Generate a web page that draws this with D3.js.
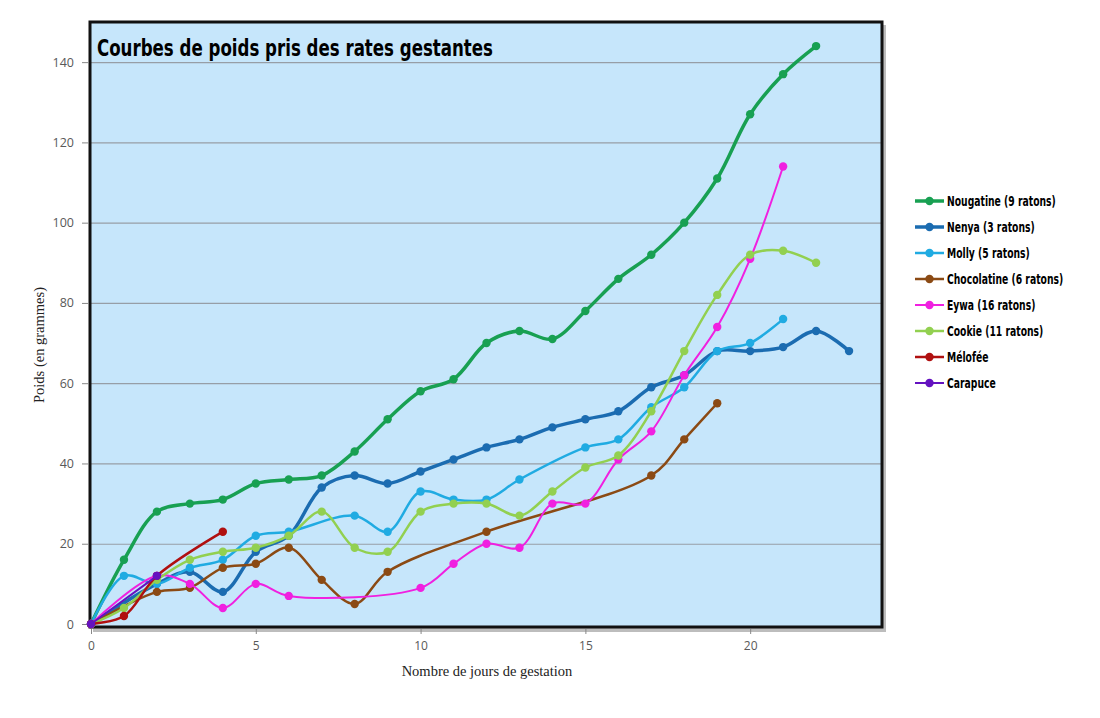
<!DOCTYPE html>
<html><head><meta charset="utf-8">
<script src="https://cdn.jsdelivr.net/npm/d3@7"></script>
<style>body{margin:0;background:#fff}svg{display:block}</style>
</head><body>
<script>
const days = [0,1,2,3,4,5,6,7,8,9,10,11,12,13,14,15,16,17,18,19,20,21,22,23];
const seriesNames = ["Nougatine (9 ratons)","Nenya (3 ratons)","Molly (5 ratons)","Chocolatine (6 ratons)","Eywa (16 ratons)","Cookie (11 ratons)","Mélofée","Carapuce"];
const nougatine   = [0,16,28,30,31,35,36,37,43,51,58,61,70,73,71,78,86,92,100,111,127,137,144,null];
const nenya       = [0,null,10,13,8,18,22,34,37,35,38,41,44,46,49,51,53,59,62,68,68,69,73,68];
const molly       = [0,12,10,14,16,22,23,null,27,23,33,31,31,36,null,44,46,54,59,68,70,76,null,null];
const chocolatine = [0,null,8,9,14,15,19,11,5,13,null,null,23,null,null,null,null,37,46,55,null,null,null,null];
const eywa        = [0,null,12,10,4,10,7,null,null,null,9,15,20,19,30,30,41,48,62,74,91,114,null,null];
const cookie      = [0,4,11,16,18,19,22,28,19,18,28,30,30,27,33,39,42,53,68,82,92,93,90,null];
const melofee     = [0,2,12,null,23,null,null,null,null,null,null,null,null,null,null,null,null,null,null,null,null,null,null,null];
const carapuce    = [0,null,12,null,null,null,null,null,null,null,null,null,null,null,null,null,null,null,null,null,null,null,null,null];
const xTicks = [0,5,10,15,20];
const yTicks = [0,20,40,60,80,100,120,140];
const colors = ["#18a052","#1b6cb1","#20abe2","#8b4a14","#f020e0","#92d050","#b01010","#6412c0"];
const widths = [3.5,3.5,2.5,2.5,2,2.5,2.5,2];
const allValues = [nougatine,nenya,molly,chocolatine,eywa,cookie,melofee,carapuce];

const W=1100,H=718;
const svg=d3.select("body").append("svg").attr("width",W).attr("height",H);
const x=d3.scaleLinear().domain([0,24]).range([91,882]);
const y=d3.scaleLinear().domain([0,150]).range([624,22]);

// shadow + background
svg.append("rect").attr("x",93).attr("y",25).attr("width",x(24)-x(0)+2).attr("height",y(0)-y(150)+5).attr("fill","#bdbdbd");
svg.append("rect").attr("x",x(0)-1).attr("y",y(150)).attr("width",x(24)-x(0)+1).attr("height",y(0)-y(150)+3).attr("fill","#c6e6fb");

// gridlines
svg.append("g").selectAll("line").data(yTicks.filter(d=>d>0)).join("line")
  .attr("x1",x(0)).attr("x2",x(24)).attr("y1",d=>y(d)+0.5).attr("y2",d=>y(d)+0.5)
  .attr("stroke","#979ea6").attr("stroke-width",1.2);

// border
svg.append("rect").attr("x",x(0)-1).attr("y",y(150)).attr("width",x(24)-x(0)+1).attr("height",y(0)-y(150)+3)
  .attr("fill","none").attr("stroke","#111").attr("stroke-width",3);

// axes
const xAxis=d3.axisBottom(x).tickValues(xTicks).tickSize(5).tickPadding(7).tickFormat(d3.format("d"));
const gx=svg.append("g").attr("transform",`translate(0,${y(0)+5})`).call(xAxis);
gx.select(".domain").remove();
gx.selectAll("line").attr("stroke","#888");
gx.selectAll("text").attr("fill","#595959").style("font-family","'Open Sans',sans-serif").style("font-size","12px");
const yAxis=d3.axisLeft(y).tickValues(yTicks).tickSize(6).tickPadding(8);
const gy=svg.append("g").attr("transform",`translate(${x(0)-3},0)`).call(yAxis);
gy.select(".domain").remove();
gy.selectAll("line").attr("stroke","#888");
gy.selectAll("text").attr("fill","#595959").style("font-family","'Open Sans',sans-serif").style("font-size","12.5px");

// axis titles
svg.append("text").attr("x",487).attr("y",676).attr("text-anchor","middle")
  .style("font-family","'Liberation Serif',serif").style("font-size","14.5px").attr("fill","#222")
  .text("Nombre de jours de gestation");
svg.append("text").attr("transform","translate(44,345) rotate(-90)").attr("text-anchor","middle")
  .style("font-family","'Liberation Serif',serif").style("font-size","14.5px").attr("fill","#222")
  .text("Poids (en grammes)");

// title
svg.append("text").attr("x",97).attr("y",56)
  .style("font-family","'DejaVu Sans Condensed','DejaVu Sans',sans-serif").style("font-weight","bold").style("font-size","23px")
  .attr("textLength",396).attr("lengthAdjust","spacingAndGlyphs").attr("fill","#000")
  .text("Courbes de poids pris des rates gestantes");

// series
const line=d3.line().x(d=>x(d[0])).y(d=>y(d[1])).curve(d3.curveCatmullRom.alpha(0.5));
allValues.forEach((vals,i)=>{
  const pts=days.map((d,j)=>[d,vals[j]]).filter(p=>p[1]!==null && p[1]!==undefined);
  const g=svg.append("g");
  g.append("path").attr("d",line(pts)).attr("fill","none").attr("stroke",colors[i]).attr("stroke-width",widths[i])
    .attr("stroke-linejoin","round").attr("stroke-linecap","round");
  g.selectAll("circle").data(pts).join("circle").attr("cx",d=>x(d[0])).attr("cy",d=>y(d[1])).attr("r",4.2).attr("fill",colors[i]);
});

// legend
const lg=svg.append("g");
seriesNames.forEach((n,i)=>{
  const ly=201+i*26;
  lg.append("line").attr("x1",915).attr("x2",944).attr("y1",ly).attr("y2",ly).attr("stroke",colors[i]).attr("stroke-width",widths[i]);
  lg.append("circle").attr("cx",929.5).attr("cy",ly).attr("r",4.2).attr("fill",colors[i]);
  const t=lg.append("text").attr("x",947).attr("y",ly+5)
    .style("font-family","'DejaVu Sans Condensed','DejaVu Sans',sans-serif").style("font-weight","bold").style("font-size","13.5px")
    .attr("fill","#000").text(n);
  const len=t.node().getComputedTextLength();
  t.attr("textLength",len*0.76).attr("lengthAdjust","spacingAndGlyphs");
});
</script>
</body></html>
